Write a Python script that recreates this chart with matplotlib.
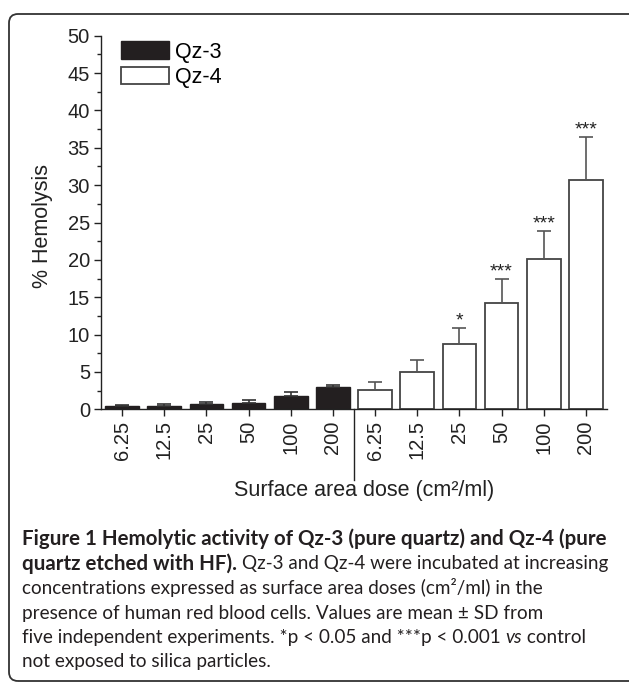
import matplotlib
matplotlib.use("Agg")
import matplotlib.pyplot as plt
import matplotlib.patches as mpatches
import matplotlib.transforms as mtransforms
from matplotlib.ticker import MultipleLocator
import numpy as np

# Data (% hemolysis, mean and SD)
doses = ["6.25", "12.5", "25", "50", "100", "200"]
qz3_mean = [0.40, 0.44, 0.71, 0.80, 1.74, 2.95]
qz3_sd = [0.14, 0.23, 0.23, 0.49, 0.54, 0.34]
qz4_mean = [2.54, 5.03, 8.78, 14.19, 20.12, 30.70]
qz4_sd = [1.16, 1.57, 2.14, 3.25, 3.75, 5.80]
qz4_stars = ["", "", "*", "***", "***", "***"]

# Caption, one list of (text, weight, style) segments per line
caption_lines = [
    [("Figure 1 Hemolytic activity of Qz-3 (pure quartz) and Qz-4 (pure", "bold", "normal")],
    [("quartz etched with HF). ", "bold", "normal"),
     ("Qz-3 and Qz-4 were incubated at increasing", "normal", "normal")],
    [("concentrations expressed as surface area doses (cm\u00b2/ml) in the", "normal", "normal")],
    [("presence of human red blood cells. Values are mean \u00b1 SD from", "normal", "normal")],
    [("five independent experiments. *p < 0.05 and ***p < 0.001 ", "normal", "normal"),
     ("vs", "normal", "italic"),
     (" control", "normal", "normal")],
    [("not exposed to silica particles.", "normal", "normal")],
]

W, H = 629, 682
plt.rcParams["font.family"] = ["Liberation Sans", "DejaVu Sans"]
caption_font = ["Lato", "DejaVu Sans"]
ink = "#222222"

fig = plt.figure(figsize=(W / 100, H / 100), dpi=100)
ax = fig.add_axes([101 / W, 1 - 409.3 / H, 506 / W, 373.6 / H])

x3 = np.arange(len(doses))
x4 = np.arange(len(doses), 2 * len(doses))

ax.bar(x3, qz3_mean, width=0.8, color="#231f20", edgecolor="#231f20", linewidth=1,
       label="Qz-3", yerr=[np.zeros(len(qz3_sd)), qz3_sd],
       error_kw=dict(ecolor="#333333", elinewidth=1.2, capsize=5, capthick=1.2))
ax.bar(x4, qz4_mean, width=0.8, color="white", edgecolor="#444444", linewidth=1.3,
       label="Qz-4", yerr=[np.zeros(len(qz4_sd)), qz4_sd],
       error_kw=dict(ecolor="#555555", elinewidth=1.2, capsize=5, capthick=1.2))

for xi, m, s, star in zip(x4, qz4_mean, qz4_sd, qz4_stars):
    if star:
        ax.text(xi, m + s + 0.3, star, ha="center", va="baseline", fontsize=14,
                color=ink)

ax.set_xlim(-0.5, 11.5)
ax.set_ylim(0, 50)
ax.yaxis.set_major_locator(MultipleLocator(5))
ax.yaxis.set_minor_locator(MultipleLocator(2.5))
ax.set_xticks(np.concatenate([x3, x4]))
ax.set_xticklabels(doses + doses, rotation=90)
ax.tick_params(axis="both", which="major", labelsize=14.5, length=5, width=1,
               color=ink, labelcolor=ink, pad=3)
ax.tick_params(axis="y", which="minor", length=3, width=1, color=ink)
for side in ["top", "right"]:
    ax.spines[side].set_visible(False)
for side in ["left", "bottom"]:
    ax.spines[side].set_color(ink)
    ax.spines[side].set_linewidth(1)

ax.set_ylabel("% Hemolysis", fontsize=15.5, color=ink)
ax.yaxis.set_label_coords(-0.095, 0.49)
ax.set_xlabel("Surface area dose (cm\u00b2/ml)", fontsize=15.5, color=ink)
ax.xaxis.set_label_coords(0.52, -0.19)

# divider between the two samples, below the axis
trans = mtransforms.blended_transform_factory(ax.transData, ax.transAxes)
ax.plot([5.5, 5.5], [0, -0.188], transform=trans, color=ink, lw=1, clip_on=False)

ax.legend(loc="upper left", bbox_to_anchor=(0.0395, 0.985), frameon=False,
          fontsize=15.5, handlelength=2.25, handleheight=0.9, labelspacing=0.18,
          handletextpad=0.25, borderpad=0, borderaxespad=0)

# rounded frame around the figure, in pixels
pix = mtransforms.IdentityTransform()
frame = mpatches.FancyBboxPatch((9, 1), 640, 667, boxstyle="round,pad=0,rounding_size=9",
                                transform=pix, facecolor="none", edgecolor="#333333",
                                linewidth=1.3)
fig.patches.append(frame)

# caption: fit bold and regular sizes to the line widths of the original
renderer = fig.canvas.get_renderer()


def text_width(text, size, weight="normal", style="normal"):
    t = fig.text(0, 0, text, fontsize=size, fontweight=weight, fontstyle=style,
                 family=caption_font)
    w = t.get_window_extent(renderer).width
    t.remove()
    return w


bold_size = 12 * 581 / text_width(caption_lines[0][0][0], 12, "bold")
line2_bold = text_width(caption_lines[1][0][0], bold_size, "bold")
reg_size = min(12 * (584 - line2_bold) / text_width(caption_lines[1][1][0], 12),
               12 * 576 / sum(text_width(t, 12, w, s) for t, w, s in caption_lines[4]))

baselines = [545, 569.5, 594, 618.5, 643, 667.5]
for line, base in zip(caption_lines, baselines):
    x = 22
    for text, weight, style in line:
        size = bold_size if weight == "bold" else reg_size
        t = fig.text(x, H - base, text, fontsize=size, fontweight=weight,
                     fontstyle=style, family=caption_font, color="#231f20",
                     ha="left", va="baseline", transform=pix)
        x += t.get_window_extent(renderer).width

fig.savefig("out.png", dpi=100)
